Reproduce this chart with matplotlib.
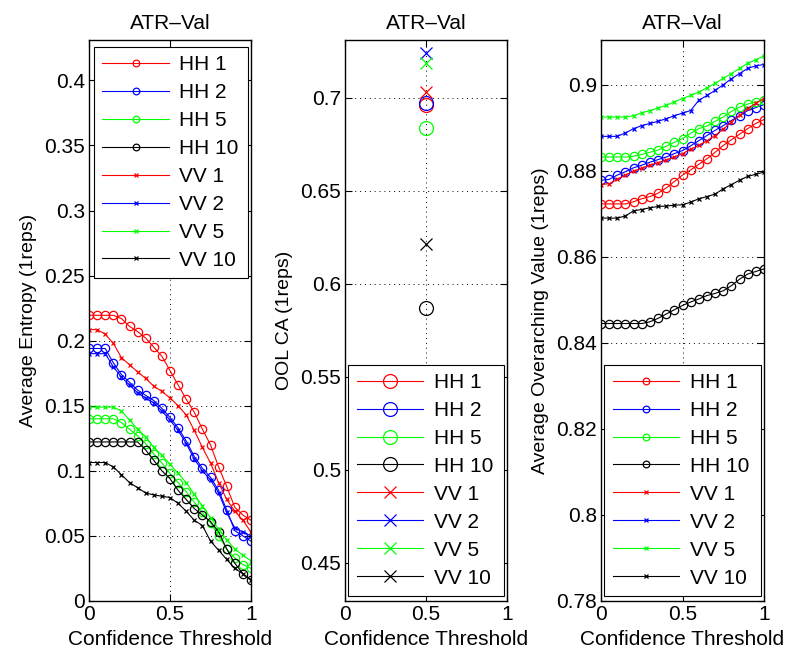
import matplotlib
matplotlib.use("Agg")
import matplotlib.pyplot as plt
from matplotlib.ticker import FuncFormatter

plt.rcParams['font.family'] = ['Liberation Sans', 'DejaVu Sans']

thr = [0.0, 0.05, 0.1, 0.15, 0.2, 0.25, 0.3, 0.35, 0.4, 0.45, 0.5,
       0.55, 0.6, 0.65, 0.7, 0.75, 0.8, 0.85, 0.9, 0.95, 1.0]

labels = ["HH 1", "HH 2", "HH 5", "HH 10", "VV 1", "VV 2", "VV 5", "VV 10"]

# Average entropy
ent_hh1 = [.2195, .2195, .2195, .2195, .217, .211, .207, .202, .195, .188, .177,
           .166, .155, .145, .132, .120, .103, .088, .072, .066, .062]
ent_hh2 = [.194, .194, .194, .183, .174, .168, .162, .158, .154, .148, .141,
           .133, .123, .111, .102, .095, .085, .070, .054, .050, .046]
ent_hh5 = [.140, .140, .140, .140, .137, .132, .127, .121, .113, .106, .098,
           .091, .084, .076, .068, .060, .050, .040, .033, .028, .025]
ent_hh10 = [.1222, .1222, .1222, .1222, .1222, .1222, .1222, .116, .108, .100, .094,
            .085, .078, .071, .066, .061, .053, .040, .029, .021, .016]
ent_vv1 = [.2085, .2085, .205, .198, .187, .1815, .176, .171, .165, .161, .156,
           .150, .143, .131, .118, .106, .091, .078, .069, .062, .053]
ent_vv2 = [.190, .190, .190, .180, .172, .166, .160, .156, .152, .146, .139,
           .131, .121, .109, .100, .093, .083, .068, .056, .053, .050]
ent_vv5 = [.149, .149, .149, .149, .146, .139, .132, .126, .118, .112, .105,
           .098, .091, .082, .073, .064, .055, .047, .040, .035, .031]
ent_vv10 = [.1064, .1064, .1064, .103, .097, .091, .087, .083, .0815, .0805, .0795,
            .075, .069, .062, .058, .046, .039, .032, .025, .021, .016]

# OOL CA at threshold 0.5
ca_x = [0.5]
ca_vals = [0.6961, 0.6973, 0.6839, 0.5871, 0.7032, 0.7239, 0.7185, 0.6212]

# Average overarching value
ov_hh1 = [.8723, .8723, .8723, .8723, .8728, .8735, .8740, .8748, .8760, .8775, .8790,
          .8802, .8815, .8828, .8843, .8859, .8872, .8885, .8898, .8910, .8919]
ov_hh2 = [.8778, .8780, .8790, .8798, .8807, .8813, .8820, .8826, .8832, .8840, .8847,
          .8858, .8870, .8882, .8894, .8905, .8917, .8928, .8940, .8947, .8954]
ov_hh5 = [.8832, .8832, .8832, .8832, .8834, .8838, .8843, .8848, .8857, .8866, .8875,
          .8887, .8898, .8904, .8915, .8925, .8938, .8948, .8955, .8960, .8964]
ov_hh10 = [.8445, .8445, .8445, .8445, .8445, .8445, .8449, .8457, .8467, .8477, .8487,
           .8495, .8502, .8510, .8515, .8521, .8533, .8548, .8560, .8566, .8572]
ov_vv1 = [.8768, .8770, .8780, .8790, .8799, .8806, .8813, .8819, .8825, .8832, .8840,
          .8850, .8859, .8870, .8882, .8897, .8913, .8929, .8945, .8957, .8968]
ov_vv2 = [.8880, .8880, .8880, .8888, .8898, .8905, .8910, .8915, .8921, .8928, .8934,
          .8940, .8964, .8975, .8987, .9000, .9014, .9026, .9038, .9044, .9047]
ov_vv5 = [.8925, .8925, .8925, .8925, .8928, .8935, .8940, .8946, .8952, .8960, .8968,
          .8975, .8983, .8993, .9003, .9015, .9026, .9038, .9050, .9058, .9067]
ov_vv10 = [.8690, .8690, .8690, .8695, .8707, .8710, .8714, .8717, .8718, .8720, .8721,
           .8727, .8735, .8740, .8746, .8758, .8768, .8778, .8787, .8792, .8797]

colors = ['#ff0000', '#0000ff', '#00ff00', '#000000'] * 2
markers = ['o'] * 4 + ['x'] * 4

ent_series = [ent_hh1, ent_hh2, ent_hh5, ent_hh10, ent_vv1, ent_vv2, ent_vv5, ent_vv10]
ov_series = [ov_hh1, ov_hh2, ov_hh5, ov_hh10, ov_vv1, ov_vv2, ov_vv5, ov_vv10]

FS = 15
FSY = 14
fig = plt.figure(figsize=(7.94, 6.60), dpi=100)
ax1 = fig.add_axes([89/794, 59/660, 162/794, 561/660])
ax2 = fig.add_axes([345/794, 59/660, 162/794, 561/660])
ax3 = fig.add_axes([601/794, 59/660, 163/794, 561/660])

fmt = FuncFormatter(lambda v, p: ('%g' % round(v, 6)))


def style(ax, ylim, yticks, ylabel):
    ax.set_xlim(0, 1)
    ax.set_ylim(*ylim)
    ax.set_xticks([0, 0.5, 1])
    ax.set_yticks(yticks)
    ax.xaxis.set_major_formatter(fmt)
    ax.yaxis.set_major_formatter(fmt)
    ax.tick_params(direction='in', top=True, right=True, labelsize=FS,
                   length=5, width=0.8, pad=3)
    ax.grid(True, linestyle=(0, (1, 4)), color='#000000', linewidth=0.7)
    for s in ax.spines.values():
        s.set_linewidth(1.0)
    ax.set_title('ATR–Val', fontsize=FS, pad=8)
    ax.set_xlabel('Confidence Threshold', fontsize=FS, labelpad=4)
    ax.set_ylabel(ylabel, fontsize=FSY, labelpad=5)


def leg(ax, loc, anchor, ms=1.0):
    lg = ax.legend(loc=loc, bbox_to_anchor=anchor, mode='expand',
                   fontsize=FS, frameon=True, fancybox=False, edgecolor='black',
                   framealpha=1, borderaxespad=0, handlelength=3.2,
                   labelspacing=0.43, borderpad=0.4, handletextpad=0.5,
                   markerscale=ms)
    lg.get_frame().set_linewidth(0.8)


for vals, c, m, lab in zip(ent_series, colors, markers, labels):
    ms = 6 if m == 'o' else 3.5
    ax1.plot(thr, vals, color=c, marker=m, markersize=ms, markerfacecolor='none',
             markeredgewidth=0.9, linewidth=0.8, label=lab)
style(ax1, (0, 0.431), [0, .05, .1, .15, .2, .25, .3, .35, .4], 'Average Entropy (1reps)')
leg(ax1, 'upper left', (0.03, 0.988, 0.95, 0), 0.8)

for v, c, m, lab in zip(ca_vals, colors, markers, labels):
    ms = 10 if m == 'o' else 8
    ax2.plot(ca_x, [v], color=c, marker=m, markersize=ms, markerfacecolor='none',
             markeredgewidth=0.9, linewidth=0.8, linestyle='-', label=lab)
style(ax2, (0.4294, 0.731), [.45, .5, .55, .6, .65, .7], 'OOL CA (1reps)')
leg(ax2, 'lower left', (0.02, 0.009, 0.96, 0))

for vals, c, m, lab in zip(ov_series, colors, markers, labels):
    ms = 6 if m == 'o' else 3.5
    ax3.plot(thr, vals, color=c, marker=m, markersize=ms, markerfacecolor='none',
             markeredgewidth=0.9, linewidth=0.8, label=lab)
style(ax3, (0.78, 0.9104), [.78, .8, .82, .84, .86, .88, .9], 'Average Overarching Value (1reps)')
leg(ax3, 'lower left', (0.02, 0.009, 0.96, 0), 0.8)

fig.savefig('out.png', dpi=100)
